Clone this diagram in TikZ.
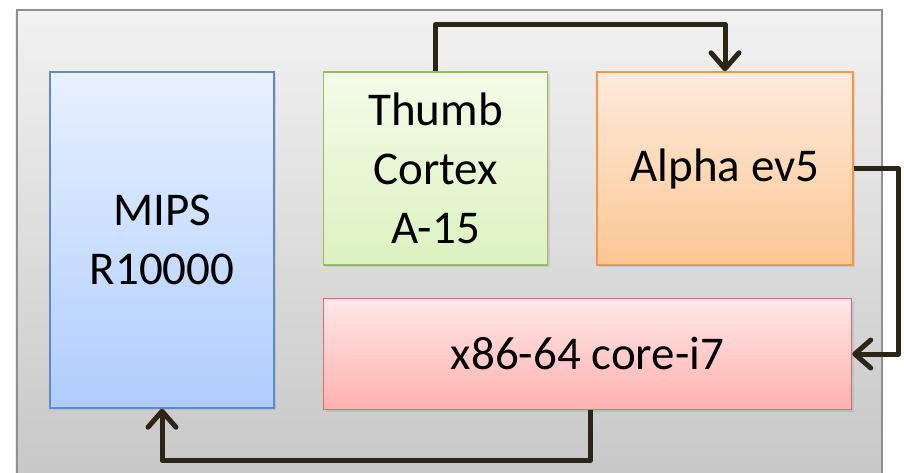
\documentclass[tikz,border=0pt]{standalone}
\usepackage{fontspec}
\setmainfont{Carlito}
\usetikzlibrary{positioning, arrows.meta, shadows}

\definecolor{framegray}{HTML}{8F8F8F}
\definecolor{frametop}{HTML}{F2F2F2}
\definecolor{framebot}{HTML}{C6C6C6}
\definecolor{linkcol}{HTML}{2B2616}
\definecolor{mipsline}{HTML}{5B8CC8}
\definecolor{mipstop}{HTML}{E8F1FF}
\definecolor{mipsbot}{HTML}{AFCDFD}
\definecolor{thumbline}{HTML}{9BBB59}
\definecolor{thumbtop}{HTML}{F4FBE9}
\definecolor{thumbbot}{HTML}{DCF2BF}
\definecolor{alphaline}{HTML}{F79646}
\definecolor{alphatop}{HTML}{FDEBDC}
\definecolor{alphabot}{HTML}{FBC793}
\definecolor{xline}{HTML}{D6706C}
\definecolor{xtop}{HTML}{FFE8E8}
\definecolor{xbot}{HTML}{FFB1AE}

\begin{document}
\begin{tikzpicture}[
    x=1pt, y=1pt,
    core/.style={draw, line width=1.5pt, inner sep=0pt, align=center,
        font=\fontsize{47}{59}\selectfont,
        drop shadow={shadow xshift=2pt, shadow yshift=-2pt, opacity=0.2}},
    link/.style={line width=5pt, draw=linkcol, line join=round,
        -{Straight Barb[round, length=16pt, width=28pt]}}
]

   % page and surrounding frame
   \useasboundingbox (0,0) rectangle (904,472);
   \clip (0,0) rectangle (904,472);
   \fill[white] (0,0) rectangle (904,472);
   \draw[framegray, line width=1.5pt, top color=frametop, bottom color=framebot,
         drop shadow={shadow xshift=-2pt, shadow yshift=-1pt, opacity=0.15}]
        (17,-20) rectangle (882,462);

   % Cores
   \node[core, draw=mipsline, top color=mipstop, bottom color=mipsbot,
         minimum width=224pt, minimum height=336pt] (mips) at (162,232) {MIPS\\R10000};
   \node[core, draw=thumbline, top color=thumbtop, bottom color=thumbbot,
         minimum width=224pt, minimum height=193pt,
         right=48pt of mips.north east, anchor=north west] (thumb) {Thumb\\Cortex\\A-15};
   \node[core, draw=alphaline, top color=alphatop, bottom color=alphabot,
         minimum width=256pt, minimum height=193pt,
         right=48pt of thumb.north east, anchor=north west] (alpha) {Alpha ev5};
   \node[core, draw=xline, top color=xtop, bottom color=xbot,
         minimum width=528pt, minimum height=111pt,
         below=32pt of thumb.south west, anchor=north west] (x86) {x86-64 core-i7};

   % Links between the cores
   \draw[link] (thumb.north) -- ++(0,47) -| (alpha.north);
   \draw[link] (alpha.east) -- ++(45,0) |- (x86.east);
   \draw[link] ([xshift=3pt]x86.south) -- ++(0,-50) -| (mips.south);

\end{tikzpicture}
\end{document}
